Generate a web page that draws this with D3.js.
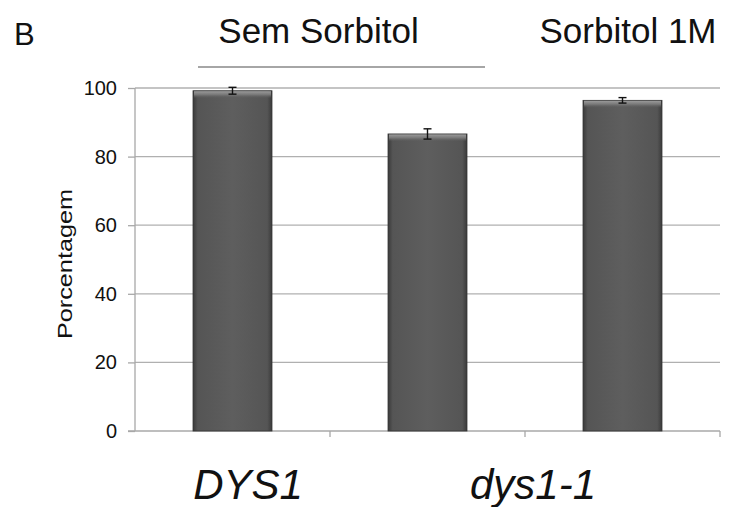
<!DOCTYPE html>
<html><head><meta charset="utf-8">
<script src="https://cdn.jsdelivr.net/npm/d3@7/dist/d3.min.js"></script>
<style>body{margin:0;background:#fff;}svg{display:block;font-family:"Liberation Sans",Arial,sans-serif;}</style>
</head><body>
<script>
const categories = ["DYS1 sem", "dys1-1 sem", "dys1-1 sorb"];
const values = [99.2, 86.6, 96.4];
const errors = [1.0, 1.5, 0.8];
const yTicks = [0, 20, 40, 60, 80, 100];
const groupLabels = ["DYS1", "dys1-1"];
const headerLabels = ["Sem Sorbitol", "Sorbitol 1M"];

const W = 729, H = 507;
const svg = d3.select("body").append("svg").attr("width", W).attr("height", H);
const x0 = 135, x1 = 720, yTop = 88, yBot = 431;
const x = d3.scaleBand().domain(categories).range([x0, x1]).paddingInner(0.595).paddingOuter(0.2975);
const step = x.step();
const y = d3.scaleLinear().domain([0, 100]).range([yBot, yTop]);

const defs = svg.append("defs");
const g = defs.append("linearGradient").attr("id", "barg").attr("x1", "0").attr("x2", "1").attr("y1", "0").attr("y2", "0");
[[0,"#3a3a3a"],[0.06,"#555"],[0.5,"#5e5e5e"],[0.94,"#555"],[1,"#3a3a3a"]].forEach(s=>g.append("stop").attr("offset", s[0]).attr("stop-color", s[1]));
const gt = defs.append("linearGradient").attr("id", "topg").attr("x1", "0").attr("x2", "0").attr("y1", "0").attr("y2", "1");
[[0,"#9a9a9a"],[0.5,"#777"],[1,"rgba(94,94,94,0)"]].forEach(s=>gt.append("stop").attr("offset", s[0]).attr("stop-color", s[1]));

// gridlines
svg.append("g").selectAll("line").data(yTicks.filter(d=>d>0)).join("line")
  .attr("x1", x0).attr("x2", x1).attr("y1", d=>y(d)).attr("y2", d=>y(d))
  .attr("stroke", "#b0b0b0").attr("stroke-width", 1.3);

// y axis
const ya = svg.append("g").attr("transform", `translate(${x0},0)`)
  .call(d3.axisLeft(y).tickValues(yTicks).tickSize(7).tickPadding(11));
ya.select(".domain").attr("stroke", "#a8a8a8").attr("stroke-width", 1.3).attr("d", `M-0,${yTop}V${yBot}`);
ya.selectAll(".tick line").attr("stroke", "#a8a8a8").attr("stroke-width", 1.3);
ya.selectAll(".tick text").attr("font-size", 20).attr("fill", "#111").attr("font-family", "Liberation Sans, Arial, sans-serif");

// x axis
svg.append("line").attr("x1", x0 - 7).attr("x2", x1).attr("y1", yBot).attr("y2", yBot).attr("stroke", "#a8a8a8").attr("stroke-width", 1.3);
svg.append("g").selectAll("line").data(categories.slice(1)).join("line")
  .attr("x1", d=>x(d) - (step - x.bandwidth())/2).attr("x2", d=>x(d) - (step - x.bandwidth())/2)
  .attr("y1", yBot).attr("y2", yBot + 6).attr("stroke", "#a8a8a8").attr("stroke-width", 1.3);
svg.append("line").attr("x1", x1).attr("x2", x1).attr("y1", yBot).attr("y2", yBot + 6).attr("stroke", "#a8a8a8").attr("stroke-width", 1.3);

// bars
const bars = svg.append("g").selectAll("g").data(categories).join("g");
bars.append("rect").attr("x", d=>x(d)).attr("width", x.bandwidth())
  .attr("y", (d,i)=>y(values[i])).attr("height", (d,i)=>yBot - y(values[i]))
  .attr("fill", "url(#barg)").attr("stroke", "#333").attr("stroke-width", 0.8);
bars.append("rect").attr("x", d=>x(d) + 1).attr("width", x.bandwidth() - 2)
  .attr("y", (d,i)=>y(values[i]) + 0.5).attr("height", 7)
  .attr("fill", "url(#topg)");

// error bars
const eb = svg.append("g").attr("stroke", "#111").attr("stroke-width", 1.4);
categories.forEach((c,i)=>{
  const cx = x(c) + x.bandwidth()/2;
  const ya1 = y(values[i] + errors[i]), ya2 = y(values[i] - errors[i]);
  eb.append("line").attr("x1", cx).attr("x2", cx).attr("y1", ya1).attr("y2", ya2);
  eb.append("line").attr("x1", cx - 4).attr("x2", cx + 4).attr("y1", ya1).attr("y2", ya1);
  eb.append("line").attr("x1", cx - 4).attr("x2", cx + 4).attr("y1", ya2).attr("y2", ya2);
});

// y label
svg.append("text").attr("transform", `translate(72,264) rotate(-90)`)
  .attr("text-anchor", "middle").attr("font-size", 20).attr("fill", "#111")
  .attr("textLength", 150).attr("lengthAdjust", "spacingAndGlyphs").text("Porcentagem");

// group labels
svg.append("text").attr("x", 248).attr("y", 499).attr("text-anchor", "middle")
  .attr("font-size", 42).attr("font-style", "italic").attr("fill", "#111").text(groupLabels[0]);
svg.append("text").attr("x", 533).attr("y", 499).attr("text-anchor", "middle")
  .attr("font-size", 42).attr("font-style", "italic").attr("fill", "#111").text(groupLabels[1]);

// header
svg.append("text").attr("x", 14).attr("y", 45).attr("font-size", 31).attr("fill", "#111").text("B");
svg.append("text").attr("x", 318.5).attr("y", 43).attr("text-anchor", "middle").attr("font-size", 35).attr("fill", "#111").text(headerLabels[0]);
svg.append("text").attr("x", 628).attr("y", 43).attr("text-anchor", "middle").attr("font-size", 35).attr("fill", "#111").text(headerLabels[1]);
svg.append("line").attr("x1", 198).attr("x2", 485).attr("y1", 67).attr("y2", 67).attr("stroke", "#888").attr("stroke-width", 1.3);
</script>
</body></html>
